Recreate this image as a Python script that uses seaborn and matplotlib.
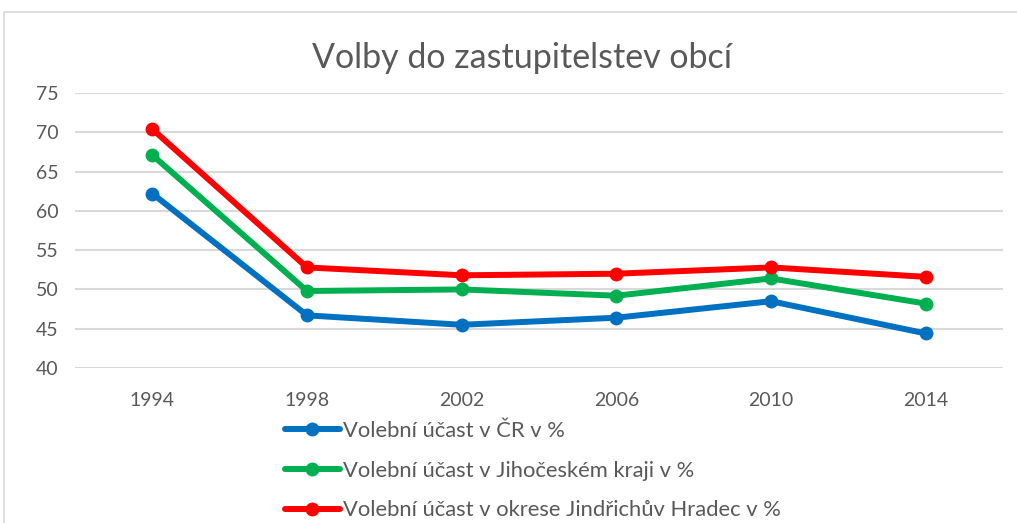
import matplotlib
matplotlib.use("Agg")
import matplotlib.pyplot as plt
import seaborn as sns
import pandas as pd
from matplotlib.patches import Rectangle

years = [1994, 1998, 2002, 2006, 2010, 2014]
cr = [62.2, 46.7, 45.5, 46.4, 48.5, 44.4]
jihocesky = [67.1, 49.8, 50.0, 49.2, 51.4, 48.2]
jh = [70.4, 52.8, 51.8, 52.0, 52.8, 51.6]
series_names = ["Volební účast v ČR v %",
                "Volební účast v Jihočeském kraji v %",
                "Volební účast v okrese Jindřichův Hradec v %"]
colors = ["#0070C0", "#00B050", "#FF0000"]
title = "Volby do zastupitelstev obcí"

rows = []
for name, vals in zip(series_names, [cr, jihocesky, jh]):
    for y, v in zip(years, vals):
        rows.append({"rok": y, "hodnota": v, "serie": name})
df = pd.DataFrame(rows)

sns.set_theme(style="white")
plt.rcParams['font.family'] = ['Lato', 'DejaVu Sans']

W, H = 1017, 523
fig = plt.figure(figsize=(W / 100, H / 100), dpi=100)
fig.patches.append(Rectangle((4 / W, -0.1), 1.2, 1 - 12 / H + 0.1,
                             transform=fig.transFigure, fill=False,
                             edgecolor="#d9d9d9", linewidth=1.2))
ax = fig.add_axes([75 / W, 1 - 368 / H, (1003 - 75) / W, (368 - 93) / H])

sns.lineplot(data=df, x="rok", y="hodnota", hue="serie", palette=colors,
             hue_order=series_names, marker="o", markersize=10,
             markeredgewidth=0, linewidth=4.3, ax=ax, legend=True)

ax.set_xlim(1992, 2016)
ax.set_ylim(40, 75)
ax.set_yticks(range(40, 76, 5))
ax.set_xticks(years)
ax.set_xticklabels([str(y) for y in years])
ax.grid(axis="y", color="#d9d9d9", linewidth=1.5)
ax.set_axisbelow(True)
for s in ax.spines.values():
    s.set_visible(False)
ax.tick_params(axis="x", length=0, pad=17, labelsize=14, labelcolor="#595959")
ax.tick_params(axis="y", length=0, pad=12, labelsize=14, labelcolor="#595959")
ax.set_xlabel("")
ax.set_ylabel("")

fig.text(522 / W, 1 - 58 / H, title, ha="center", va="center",
         fontsize=24.5, color="#595959")

handles, labels = ax.get_legend_handles_labels()
ax.legend(handles, labels, loc="upper left",
          bbox_to_anchor=(285 / W, 1 - 421 / H), bbox_transform=fig.transFigure,
          frameon=False, fontsize=15.8, labelcolor="#595959",
          handlelength=2.5, handletextpad=0.15, labelspacing=0.9,
          borderaxespad=0, borderpad=0)

fig.savefig("out.png", dpi=100)
